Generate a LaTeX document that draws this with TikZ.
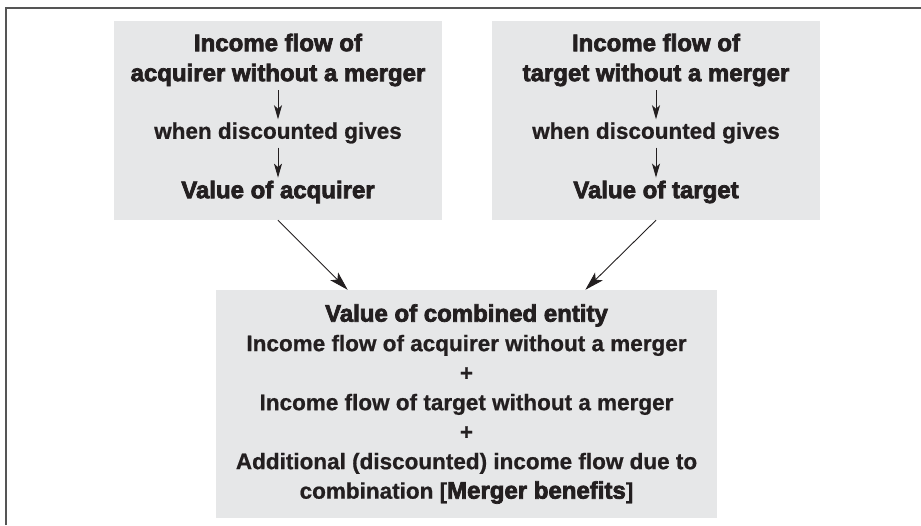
\documentclass[tikz,border=0pt]{standalone}
\usepackage{fontspec}
\setmainfont{Liberation Sans}
\newfontfamily\heavyfont[FakeBold=3]{Liberation Sans Bold}
\newfontfamily\demifont[FakeBold=0.8]{Liberation Sans Bold}
\usepackage{tikz}
\usetikzlibrary{arrows.meta,calc}
\definecolor{BoxGray}{RGB}{230,231,232}
\definecolor{FrameGray}{RGB}{85,85,85}
\definecolor{Ink}{RGB}{35,31,32}
\newcommand{\hv}[1]{{\heavyfont\fontsize{24}{30}\selectfont #1}}

\begin{document}
\begin{tikzpicture}[x=1pt,y=-1pt,
  panel/.style={fill=BoxGray,inner sep=0pt,minimum width=328pt,minimum height=199pt},
  heavy/.style={font=\heavyfont\fontsize{24}{30}\selectfont,text=Ink,
                align=center,inner sep=0pt},
  demi/.style={font=\demifont\fontsize{22.5}{29.5}\selectfont,text=Ink,
               align=center,inner sep=0pt},
  flow/.style={-{Stealth[length=14pt,width=8pt,inset=3.5pt]},line width=0.9pt,
               draw=Ink,shorten <=4pt,shorten >=3pt},
  merge/.style={-{Stealth[length=19pt,width=11pt,inset=4.5pt]},line width=0.9pt,draw=Ink},
]
\useasboundingbox (0,0) rectangle (921,525);
\draw[FrameGray,line width=1.8pt] (6,525) -- (6,8) -- (921,8);
% the two firms on their own
\node[panel] (acqbox) at (278,120.5) {};
\node[panel] (tgtbox) at (656,120.5) {};
\node[heavy] (acqflow) at (278,60) {Income flow of\\acquirer without a merger};
\node[demi] (acqdisc) at (278,133) {when discounted gives};
\node[heavy] (acqval) at (278,192) {Value of acquirer};
\node[heavy] (tgtflow) at (656,60) {Income flow of\\target without a merger};
\node[demi] (tgtdisc) at (656,133) {when discounted gives};
\node[heavy] (tgtval) at (656,192) {Value of target};
\draw[flow] (acqflow) -- (acqdisc);
\draw[flow] (acqdisc) -- (acqval);
\draw[flow] (tgtflow) -- (tgtdisc);
\draw[flow] (tgtdisc) -- (tgtval);
% combined entity
\node[panel,demi,minimum width=501pt,minimum height=228pt] (combo) at (466.5,404)
  {\hv{Value of combined entity}\\
   Income flow of acquirer without a merger\\
   +\\
   Income flow of target without a merger\\
   +\\
   Additional (discounted) income flow due to\\
   combination [\hv{Merger benefits}]};
\draw[merge] (acqbox.south) -- ($(combo.north west)!0.263!(combo.north east)$);
\draw[merge] (tgtbox.south) -- ($(combo.north west)!0.737!(combo.north east)$);
\end{tikzpicture}
\end{document}
